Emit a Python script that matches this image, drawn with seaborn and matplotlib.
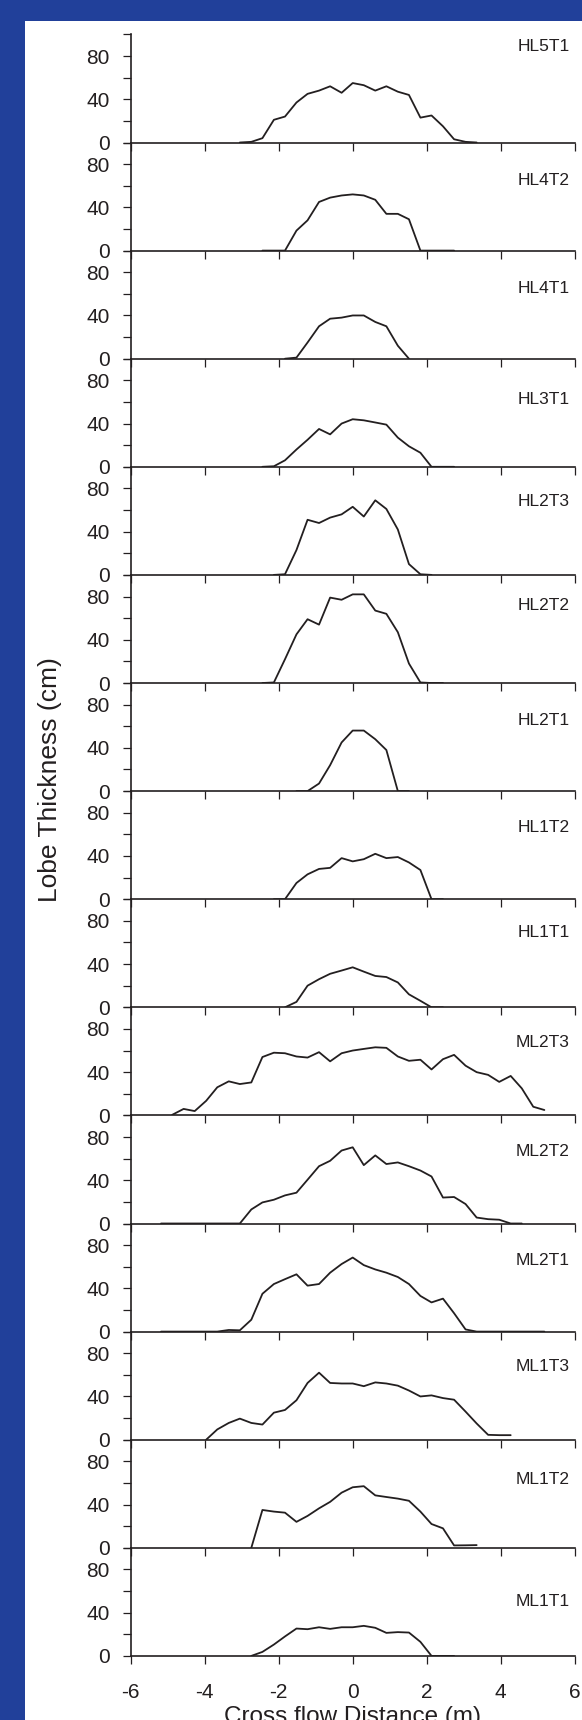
import seaborn as sns
import matplotlib.pyplot as plt
from matplotlib.patches import Rectangle

# cross-flow lobe profiles, top panel to bottom panel (x in m, thickness in cm)
hl5t1_x = [-3.05, -2.74, -2.44, -2.13, -1.83, -1.52, -1.22, -0.91, -0.61, -0.30, 0.00,
           0.30, 0.61, 0.91, 1.22, 1.52, 1.83, 2.13, 2.44, 2.74, 3.05, 3.35]
hl5t1_y = [0, 0.6, 4, 21, 24, 37, 45, 48, 52, 46, 55, 53, 48, 52, 47, 44, 23, 25, 15, 3, 0.6, 0]

hl4t2_x = [-2.44, -2.13, -1.83, -1.52, -1.22, -0.91, -0.61, -0.30, 0.00,
           0.30, 0.61, 0.91, 1.22, 1.52, 1.83, 2.13, 2.44, 2.74]
hl4t2_y = [0, 0, 0, 18.5, 28, 45, 49, 51, 52, 51, 47, 34, 34, 29, 0, 0, 0, 0]

hl4t1_x = [-1.83, -1.52, -1.22, -0.91, -0.61, -0.30, 0.00, 0.30, 0.61, 0.91, 1.22, 1.52]
hl4t1_y = [0, 1, 15, 30, 37, 38, 40, 40, 34, 30, 12, 0]

hl3t1_x = [-2.44, -2.13, -1.83, -1.52, -1.22, -0.91, -0.61, -0.30, 0.00,
           0.30, 0.61, 0.91, 1.22, 1.52, 1.83, 2.13, 2.44, 2.74]
hl3t1_y = [0, 0.5, 6, 16, 25, 35, 30, 40, 44, 43, 41, 39, 27, 19, 13, 0, 0, 0]

hl2t3_x = [-2.13, -1.83, -1.52, -1.22, -0.91, -0.61, -0.30, 0.00,
           0.30, 0.61, 0.91, 1.22, 1.52, 1.83, 2.13]
hl2t3_y = [0, 0.6, 23, 51, 48, 53, 56, 63, 54, 69, 61, 42, 10, 0.6, 0]

hl2t2_x = [-2.44, -2.13, -1.83, -1.52, -1.22, -0.91, -0.61, -0.30, 0.00,
           0.30, 0.61, 0.91, 1.22, 1.52, 1.83, 2.13, 2.44]
hl2t2_y = [0, 0.5, 22, 45, 59, 54, 79, 77, 82, 82, 67, 64, 47, 18, 0.5, 0, 0]

hl2t1_x = [-1.52, -1.22, -0.91, -0.61, -0.30, 0.00, 0.30, 0.61, 0.91, 1.22, 1.52]
hl2t1_y = [0, 0, 7, 24, 45, 56, 56, 48, 38, 0, 0]

hl1t2_x = [-2.13, -1.83, -1.52, -1.22, -0.91, -0.61, -0.30, 0.00,
           0.30, 0.61, 0.91, 1.22, 1.52, 1.83, 2.13, 2.44]
hl1t2_y = [0, 0, 15, 23, 28, 29, 38, 35, 37, 42, 38, 39, 34, 27, 0, 0]

hl1t1_x = [-1.83, -1.52, -1.22, -0.91, -0.61, -0.30, 0.00,
           0.30, 0.61, 0.91, 1.22, 1.52, 1.83, 2.13, 2.44]
hl1t1_y = [0, 5, 20, 26, 31, 34, 37, 33, 29, 28, 23, 12, 6, 0, 0]

ml2t3_x = [-4.88, -4.57, -4.27, -3.96, -3.66, -3.35, -3.05, -2.74, -2.44, -2.13, -1.83,
           -1.52, -1.22, -0.91, -0.61, -0.30, 0.00, 0.30, 0.61, 0.91, 1.22, 1.52, 1.83,
           2.13, 2.44, 2.74, 3.05, 3.35, 3.66, 3.96, 4.27, 4.57, 4.88, 5.18]
ml2t3_y = [0.5, 6, 4, 13.5, 26, 31.5, 29, 30.5, 54, 58, 57.5, 54.5, 53.5, 58.5, 50, 57.5, 60,
           61.5, 63, 62.5, 54.5, 50.5, 51.5, 42.5, 52, 56, 46, 40, 37.5, 31, 36.5, 25, 8, 5]

ml2t2_x = [-5.18, -4.88, -4.57, -4.27, -3.96, -3.66, -3.35, -3.05, -2.74, -2.44, -2.13,
           -1.83, -1.52, -1.22, -0.91, -0.61, -0.30, 0.00, 0.30, 0.61, 0.91, 1.22, 1.52,
           1.83, 2.13, 2.44, 2.74, 3.05, 3.35, 3.66, 3.96, 4.27, 4.57]
ml2t2_y = [0, 0, 0, 0, 0, 0, 0, 0, 13, 19.5, 22, 26, 28.5, 40.5, 53, 58, 67.5, 70.5,
           54, 63, 55, 56.5, 53, 49, 43.5, 24, 24.5, 18, 5.5, 4, 3.5, 0, 0]

ml2t1_x = [-5.18, -4.88, -4.57, -4.27, -3.96, -3.66, -3.35, -3.05, -2.74, -2.44, -2.13,
           -1.83, -1.52, -1.22, -0.91, -0.61, -0.30, 0.00, 0.30, 0.61, 0.91, 1.22, 1.52,
           1.83, 2.13, 2.44, 2.74, 3.05, 3.35, 3.66, 3.96, 4.27, 4.57, 4.88, 5.18]
ml2t1_y = [0, 0, 0, 0, 0, 0, 1.5, 1.2, 11, 35, 44, 48.5, 53, 42.5, 44, 54.5, 62.5, 68.5,
           61.5, 57.5, 54.5, 50.5, 44, 33, 27, 30.5, 17, 2, 0, 0, 0, 0, 0, 0, 0]

ml1t3_x = [-3.96, -3.66, -3.35, -3.05, -2.74, -2.44, -2.13, -1.83, -1.52, -1.22, -0.91,
           -0.61, -0.30, 0.00, 0.30, 0.61, 0.91, 1.22, 1.52, 1.83, 2.13, 2.44, 2.74,
           3.05, 3.35, 3.66, 3.96, 4.27]
ml1t3_y = [0, 9.5, 15.5, 19.5, 15.5, 14, 25, 27.5, 36.5, 52.5, 62, 52.5, 52, 52, 49.5,
           53, 52, 50, 45.5, 40, 41, 38.5, 37, 26, 15, 4.5, 4.2, 4.2]

ml1t2_x = [-2.74, -2.44, -2.13, -1.83, -1.52, -1.22, -0.91, -0.61, -0.30, 0.00, 0.30,
           0.61, 0.91, 1.22, 1.52, 1.83, 2.13, 2.44, 2.74, 3.05, 3.35]
ml1t2_y = [0, 35, 33.5, 32.5, 24, 29.5, 36.5, 42.5, 51, 56, 57, 48.5, 47, 45.5, 43.5,
           33.5, 22, 18, 2.2, 2.3, 2.5]

ml1t1_x = [-2.74, -2.44, -2.13, -1.83, -1.52, -1.22, -0.91, -0.61, -0.30, 0.00, 0.30,
           0.61, 0.91, 1.22, 1.52, 1.83, 2.13, 2.44, 2.74]
ml1t1_y = [0, 3.7, 10.5, 18, 25.3, 24.7, 26.5, 25, 26.5, 26.5, 27.8, 26, 21.3, 22, 21.6,
           13, 0, 0, 0]

names = ['HL5T1', 'HL4T2', 'HL4T1', 'HL3T1', 'HL2T3', 'HL2T2', 'HL2T1', 'HL1T2', 'HL1T1',
         'ML2T3', 'ML2T2', 'ML2T1', 'ML1T3', 'ML1T2', 'ML1T1']
xs = [hl5t1_x, hl4t2_x, hl4t1_x, hl3t1_x, hl2t3_x, hl2t2_x, hl2t1_x, hl1t2_x, hl1t1_x,
      ml2t3_x, ml2t2_x, ml2t1_x, ml1t3_x, ml1t2_x, ml1t1_x]
ys = [hl5t1_y, hl4t2_y, hl4t1_y, hl3t1_y, hl2t3_y, hl2t2_y, hl2t1_y, hl1t2_y, hl1t1_y,
      ml2t3_y, ml2t2_y, ml2t1_y, ml1t3_y, ml1t2_y, ml1t1_y]

x_ticks = [-6, -4, -2, 0, 2, 4, 6]
x_ticklabels = ['-6', '-4', '-2', '0', '2', '4', '6']
y_ticks = [0, 20, 40, 60, 80, 100]
y_ticklabels = ['0', '', '40', '', '80', '']

# height of each panel's name (in axis units), as placed in the original figure
name_pos = [89, 65, 65, 62, 68, 72, 65, 66, 69, 67, 67, 66, 68, 63, 50]

sns.set_style("ticks")
plt.rcParams['font.family'] = ['Liberation Sans', 'DejaVu Sans']

ink = '#231f20'
blue = '#21409a'

fig, axes = plt.subplots(15, 1, figsize=(5.82, 17.2), dpi=100, sharex=True,
                         gridspec_kw={'hspace': 0})
fig.patch.set_facecolor(blue)
# white panel behind the axes
fig.patches.append(Rectangle((25 / 582, 0), 1, 1 - 21 / 1720, transform=fig.transFigure,
                             facecolor='white', edgecolor='none', zorder=-10))
fig.subplots_adjust(left=130.7 / 582, right=574.7 / 582, top=1 - 34.4 / 1720,
                    bottom=1 - 1655.9 / 1720)

for ax, name, x, y, ny in zip(axes, names, xs, ys, name_pos):
    ax.set_facecolor('none')
    ax.set_zorder(1)
    sns.lineplot(x=x, y=y, ax=ax, color=ink, linewidth=1.3, estimator=None, sort=False)
    ax.set_xlim(-6, 6)
    ax.set_ylim(0, 100)
    ax.set_yticks(y_ticks)
    ax.set_yticklabels(y_ticklabels)
    ax.set_xticks(x_ticks)
    ax.set_xlabel('')
    ax.set_ylabel('')
    ax.text(5.87, ny, name, ha='right', va='center', fontsize=12.5, color=ink)
    sns.despine(ax=ax)
    for side in ['left', 'bottom']:
        ax.spines[side].set_linewidth(1.2)
        ax.spines[side].set_color(ink)
    ax.tick_params(axis='both', direction='out', length=5.5, width=0.9, color=ink,
                   labelcolor=ink, labelsize=15)
    ax.tick_params(axis='y', pad=9.5)
    ax.tick_params(axis='x', pad=14)

axes[-1].set_xticklabels(x_ticklabels)

fig.text(50 / 582, 1 - 780 / 1720, 'Lobe Thickness (cm)', rotation=90, ha='center',
         va='center', fontsize=19, color=ink, zorder=5)
# the original crops this label at the bottom edge
fig.text(352.7 / 582, 1 - 1723 / 1720, 'Cross flow Distance (m)', ha='center',
         va='baseline', fontsize=17.5, color=ink, zorder=5)

fig.savefig('out.png', dpi=100, facecolor=fig.get_facecolor())
